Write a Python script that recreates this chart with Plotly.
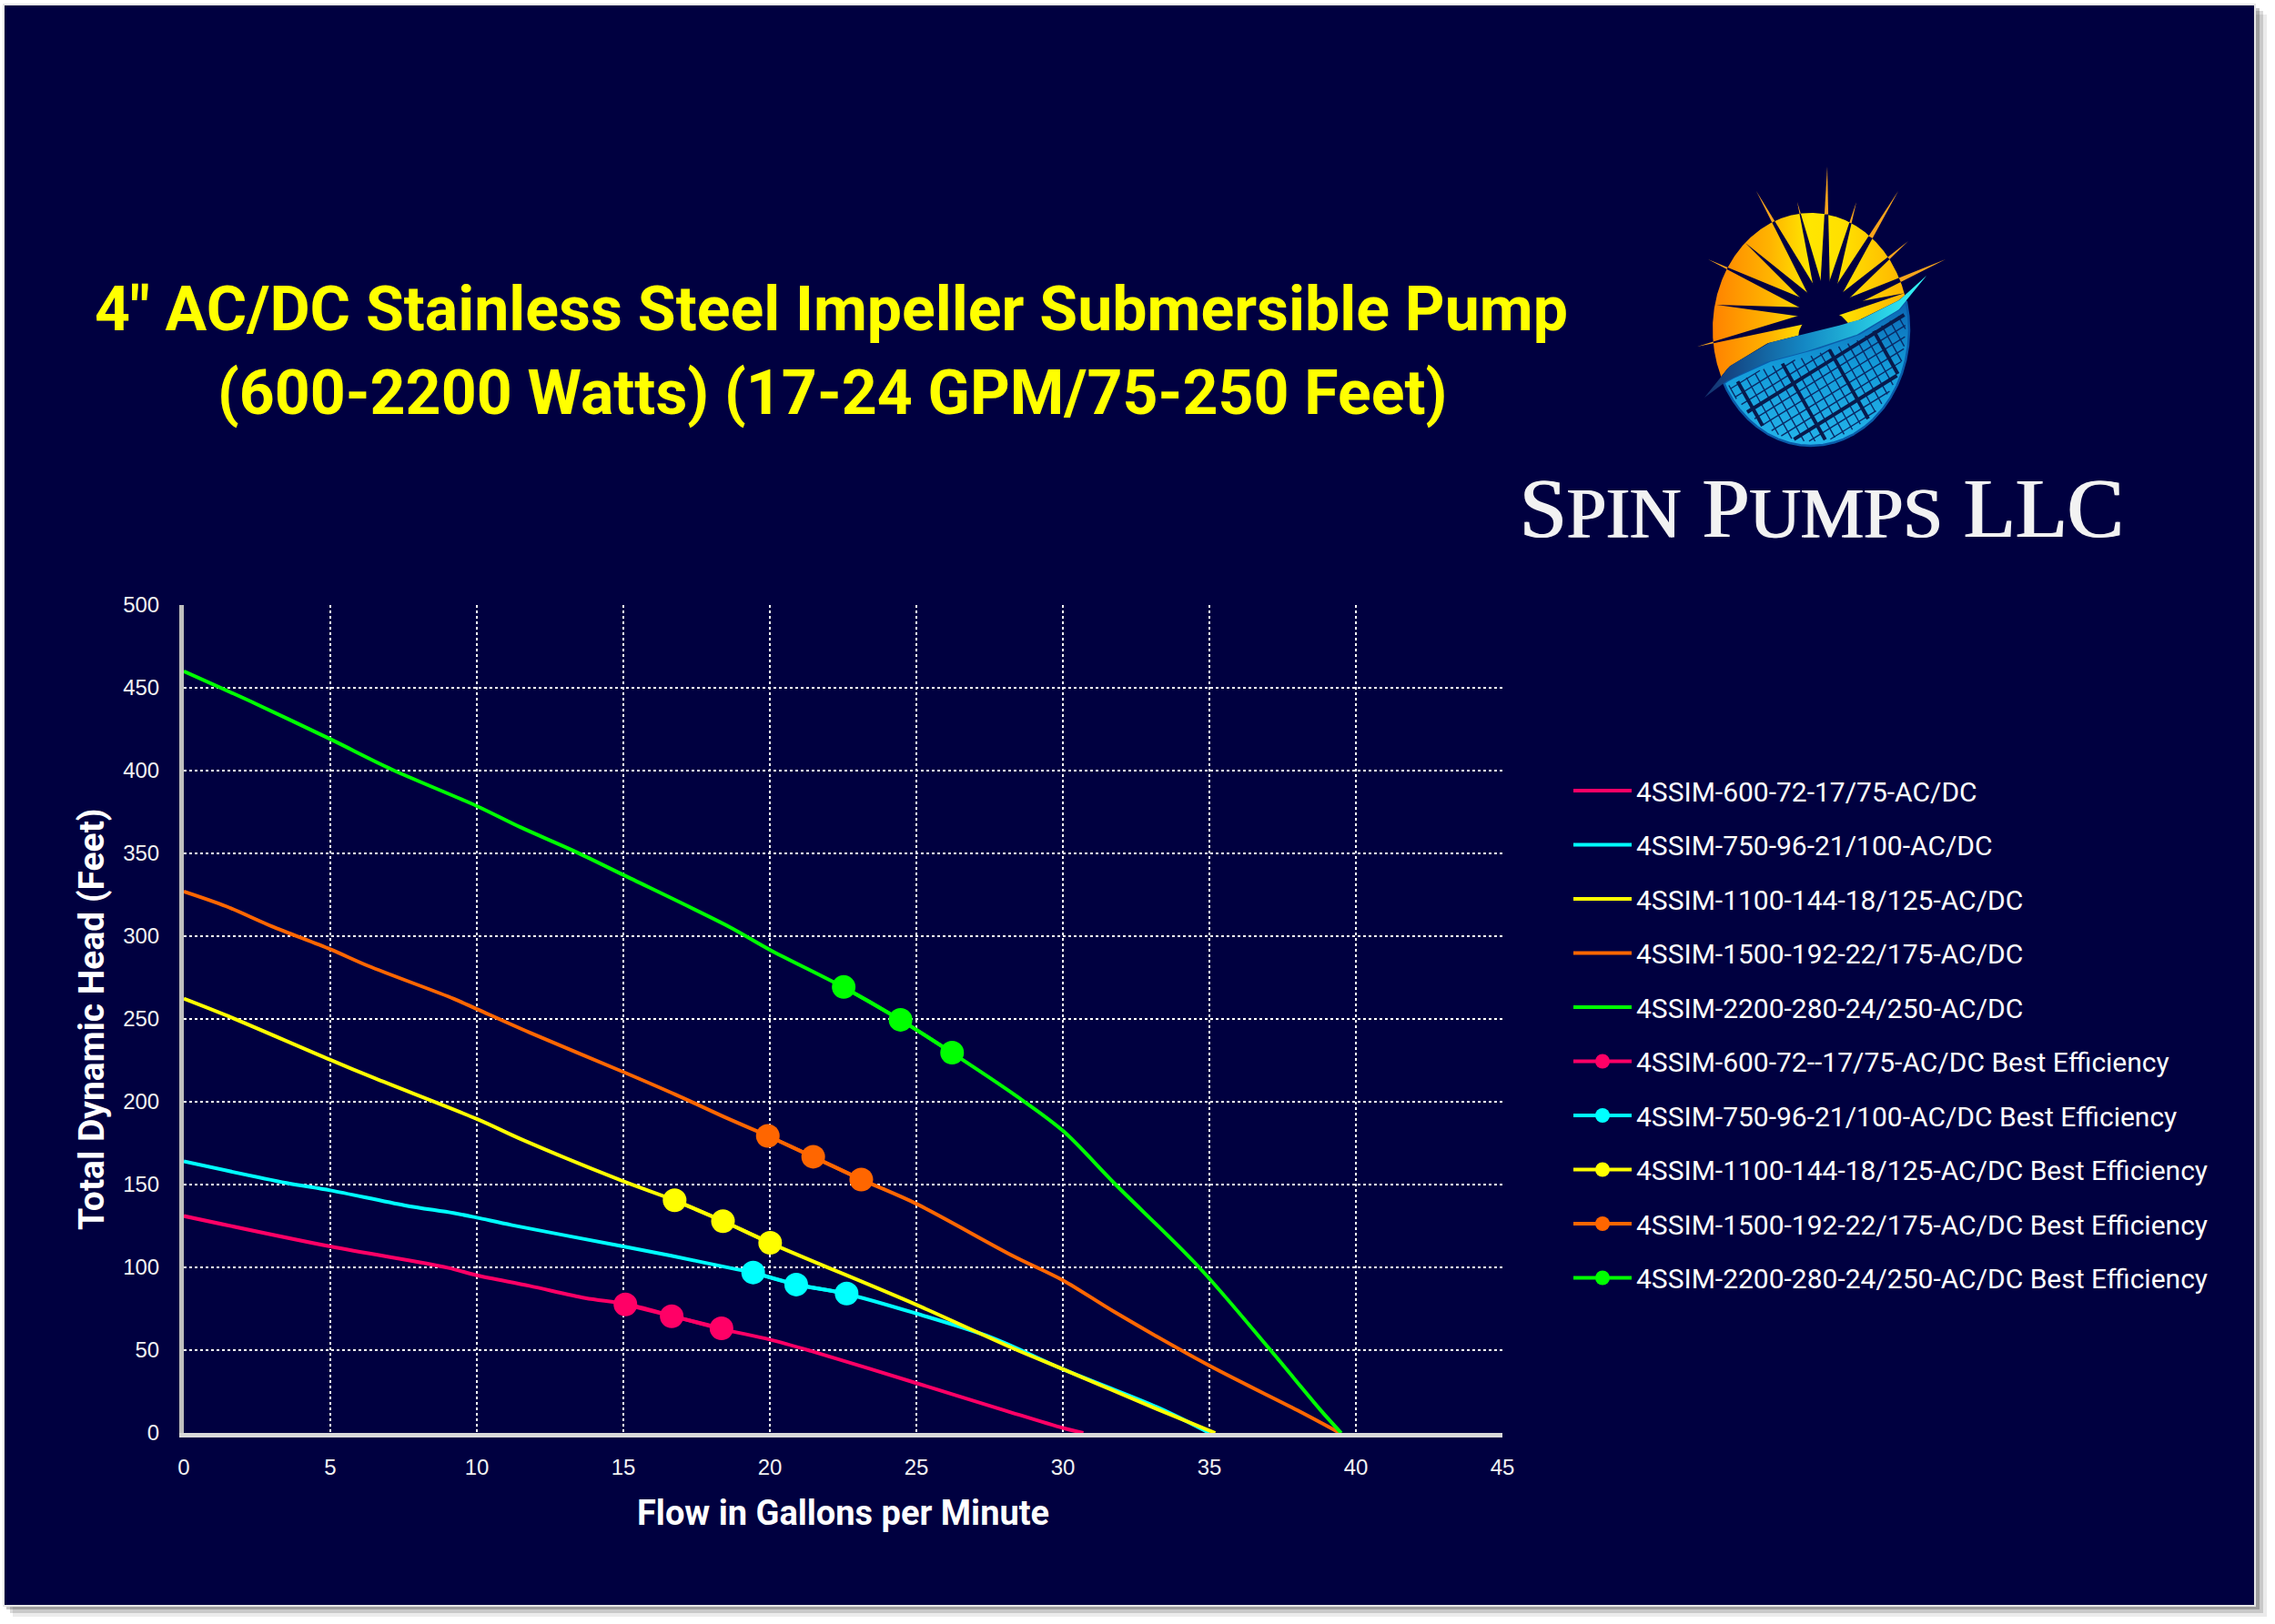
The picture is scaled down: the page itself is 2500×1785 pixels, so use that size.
import numpy as np
import plotly.graph_objects as go

W, H = 2500, 1785

# ---------------- data ----------------
flow_600 = [0, 5, 9, 10, 11.8, 13.7, 15.1, 16.7, 18.3, 20, 21.4, 25, 28, 30, 30.7]
head_600 = [131, 112.6, 99.8, 95.2, 88.8, 81.5, 77.9, 70.5, 63, 56.4, 49.5, 30.1, 13.7, 3, 0]

flow_750 = [0, 3.5, 5, 7.55, 9.2, 10, 11.2, 15, 16.6, 18.6, 19.4, 20.9, 22.6, 25, 27.6, 30, 33.3, 35]
head_750 = [164, 151, 146.5, 137.4, 132.8, 130, 125.5, 112.6, 107.1, 99.8, 96.8, 89.6, 84.1, 72.1, 57.4, 38.5, 14.9, 0]

flow_1100 = [0, 1.5, 5, 6.5, 10, 11.6, 15, 16.75, 18.4, 20, 25, 28.3, 30, 33.2, 35.2]
head_1100 = [262.3, 251.8, 225.3, 214.3, 189.6, 176.7, 152, 140.5, 128, 114.8, 77.4, 51.1, 38.5, 14.5, 0]

flow_1500 = [0, 1.45, 3.0, 5, 6.3, 9.2, 10, 11.8, 15, 16.8, 18.6, 19.93, 21.48, 23.12, 25, 28.3, 30, 31.75, 35, 38, 39.45]
head_1500 = [327, 318, 306, 292.1, 282, 262.3, 256, 241.8, 218, 204.2, 189.6, 179.4, 166.8, 153.1, 138.4, 106.9, 92.2, 73.2, 40.6, 13.7, 0]

flow_2200 = [0, 2.5, 5, 7.1, 10, 11.5, 13.3, 15, 18.6, 20, 22.5, 24.45, 26.2, 28.4, 30, 31.8, 34.65, 37.1, 38.8, 39.5]
head_2200 = [460, 440, 419, 400.7, 378.6, 365.7, 351.6, 337, 305.8, 291.8, 269.3, 249.5, 229.7, 203.6, 182.5, 150, 100, 49.7, 13.7, 0]

bep_flow_600 = [15.07, 16.65, 18.35]
bep_head_600 = [77.6, 70.5, 63.2]
bep_flow_750 = [19.43, 20.9, 22.62]
bep_head_750 = [96.9, 89.6, 84.2]
bep_flow_1100 = [16.75, 18.4, 20.01]
bep_head_1100 = [140.5, 127.9, 114.8]
bep_flow_1500 = [19.93, 21.48, 23.12]
bep_head_1500 = [179.4, 166.8, 153.0]
bep_flow_2200 = [22.52, 24.46, 26.22]
bep_head_2200 = [269.3, 249.5, 229.7]

names = ["4SSIM-600-72-17/75-AC/DC", "4SSIM-750-96-21/100-AC/DC", "4SSIM-1100-144-18/125-AC/DC",
         "4SSIM-1500-192-22/175-AC/DC", "4SSIM-2200-280-24/250-AC/DC"]
bep_names = ["4SSIM-600-72--17/75-AC/DC Best Efficiency", "4SSIM-750-96-21/100-AC/DC Best Efficiency",
             "4SSIM-1100-144-18/125-AC/DC Best Efficiency", "4SSIM-1500-192-22/175-AC/DC Best Efficiency",
             "4SSIM-2200-280-24/250-AC/DC Best Efficiency"]
colors = ["#FF0066", "#00FFFF", "#FFFF00", "#FF6600", "#00FF00"]

x_ticks = list(range(0, 50, 5))
y_ticks = list(range(0, 550, 50))

title1 = '4" AC/DC Stainless Steel Impeller Submersible Pump'
title2 = '(600-2200 Watts) (17-24 GPM/75-250 Feet)'
x_title = "Flow in Gallons per Minute"
y_title = "Total Dynamic Head (Feet)"

curves = [(flow_600, head_600), (flow_750, head_750), (flow_1100, head_1100),
          (flow_1500, head_1500), (flow_2200, head_2200)]
beps = [(bep_flow_600, bep_head_600), (bep_flow_750, bep_head_750), (bep_flow_1100, bep_head_1100),
        (bep_flow_1500, bep_head_1500), (bep_flow_2200, bep_head_2200)]

NAVY = "#000040"

fig = go.Figure()

for i, (fx, fy) in enumerate(curves):
    fig.add_trace(go.Scatter(x=fx, y=fy, mode="lines", name=names[i], legendgroup="g%d" % i,
                             line=dict(color=colors[i], width=4, shape="spline", smoothing=0.9),
                             hoverinfo="skip"))
for i, (fx, fy) in enumerate(beps):
    fig.add_trace(go.Scatter(x=fx, y=fy, mode="lines+markers", name=bep_names[i], legendgroup="b%d" % i,
                             line=dict(color=colors[i], width=4),
                             marker=dict(color=colors[i], size=26),
                             hoverinfo="skip"))

# ---------------- logo (decoration drawn in pixel space on an invisible overlay axis) ----------------
CX, CY, RX, RY = 1990, 362, 108, 128
sw_x = np.array([1873, 1900, 1943, 1993, 2043, 2087, 2117])
sw_up = np.array([437, 403, 377, 365, 352, 330, 303])
sw_lo = np.array([437, 417, 397, 384, 367, 340, 303])


def logo_trace(xs, ys, **kw):
    d = dict(x=list(xs), y=list(ys), xaxis="x2", yaxis="y2", showlegend=False, hoverinfo="skip")
    d.update(kw)
    fig.add_trace(go.Scatter(**d))


def poly(xs, ys, color, **kw):
    logo_trace(xs, ys, mode="lines", fill="toself", fillcolor=color, line=dict(width=0, color=color), **kw)


F = np.array([2005.0, 345.0])
tips = [(2008, 183), (1930, 210), (1975, 222), (2040, 222), (2086, 210), (1877, 285),
        (1918, 267), (2097, 265), (2138, 285), (1886, 335), (1865, 381), (2094, 322)]
ray_base = 13.0

ray_geo = []
for tx, ty in tips:
    T = np.array([tx, ty], float)
    dv = T - F
    L = np.hypot(*dv)
    d = dv / L
    n = np.array([-d[1], d[0]])
    ss = np.linspace(0, L, 400)
    px_ = F[0] + d[0] * ss
    py_ = F[1] + d[1] * ss
    inside = ((px_ - CX) / RX) ** 2 + ((py_ - CY) / RY) ** 2 < 1
    sb = ss[inside][-1] if inside.any() else 0
    B = F + d * sb
    wb = ray_base * (1 - sb / L) / 2
    ray_geo.append((T, B, n, wb))
    poly([B[0] + n[0] * wb, T[0], B[0] - n[0] * wb, B[0] + n[0] * wb],
         [B[1] + n[1] * wb, T[1], B[1] - n[1] * wb, B[1] + n[1] * wb], "#F8A41C")

t = np.linspace(np.pi / 2, 5 * np.pi / 2, 1441)
ex, ey = CX + RX * np.cos(t), CY + RY * np.sin(t)
m = ey < np.interp(ex, sw_x, sw_up)
sx, sy = ex[m], ey[m]
cx_ = np.linspace(sx[-1], sx[0], 60)
logo_trace(np.concatenate([sx, cx_]), np.concatenate([sy, np.interp(cx_, sw_x, sw_up)]),
           mode="lines", fill="toself", line=dict(width=0, color="rgba(0,0,0,0)"),
           fillgradient=dict(type="horizontal",
                             colorscale=[[0, "#FF8200"], [0.3, "#FFB400"], [0.5, "#FFE600"],
                                         [0.68, "#FFE000"], [1, "#FFB400"]]))

for T, B, n, wb in ray_geo:
    w0 = ray_base / 2
    poly([F[0] + n[0] * w0, B[0] + n[0] * wb, B[0] - n[0] * wb, F[0] - n[0] * w0, F[0] + n[0] * w0],
         [F[1] + n[1] * w0, B[1] + n[1] * wb, B[1] - n[1] * wb, F[1] - n[1] * w0, F[1] + n[1] * w0], NAVY)

ang = np.linspace(np.pi, 2 * np.pi, 40)
core_x = np.concatenate([2006 + 30 * np.cos(ang), [2036, 1976]])
core_y = np.concatenate([372 + 30 * np.sin(ang), [380, 390]])
poly(core_x, core_y, NAVY)

t = np.linspace(-np.pi / 2, 3 * np.pi / 2, 1441)
ex, ey = CX + RX * np.cos(t), CY + RY * np.sin(t)
m = ey > np.interp(ex, sw_x, sw_lo)
bx, by = ex[m], ey[m]
cx_ = np.linspace(bx[-1], bx[0], 60)
logo_trace(np.concatenate([bx, cx_]), np.concatenate([by, np.interp(cx_, sw_x, sw_lo)]),
           mode="lines", fill="toself", line=dict(width=2.5, color="#0A5CAA"),
           fillgradient=dict(type="vertical", colorscale=[[0, "#24B4EA"], [0.55, "#139BD9"], [1, "#0B64B2"]]))


def inside_blue(x, y):
    return (((x - CX) / RX) ** 2 + ((y - CY) / RY) ** 2 < 0.93) & (y > np.interp(x, sw_x, sw_lo) + 6)


P0 = np.array([1985.0, 425.0])
fam = [((0.85, -0.527), (0.527, 0.85)), ((0.49, 0.872), (0.872, -0.49))]
thin_x, thin_y, thick_x, thick_y = [], [], [], []
s = np.arange(-240, 241, 1.0)
for dvec, nvec in fam:
    dvec, nvec = np.array(dvec), np.array(nvec)
    for k in range(-20, 21):
        base = P0 + nvec * k * 10.5
        px_ = base[0] + dvec[0] * s
        py_ = base[1] + dvec[1] * s
        ins = inside_blue(px_, py_)
        tx_, ty_ = (thick_x, thick_y) if (k + 1) % 5 == 0 else (thin_x, thin_y)
        run = False
        for j in range(len(s)):
            if ins[j]:
                tx_.append(px_[j]); ty_.append(py_[j]); run = True
            elif run:
                tx_.append(None); ty_.append(None); run = False
        if run:
            tx_.append(None); ty_.append(None)
logo_trace(thin_x, thin_y, mode="lines", line=dict(width=1.4, color="#0A2A66"))
logo_trace(thick_x, thick_y, mode="lines", line=dict(width=4, color="#081A4C"))

swx = np.linspace(1873, 2117, 90)
logo_trace(np.concatenate([swx, swx[::-1]]),
           np.concatenate([np.interp(swx, sw_x, sw_up), np.interp(swx[::-1], sw_x, sw_lo)]),
           mode="lines", fill="toself", line=dict(width=0, color="rgba(0,0,0,0)"),
           fillgradient=dict(type="horizontal", colorscale=[[0, "#14306E"], [0.45, "#1488C4"], [1, "#35F8F8"]]))

# ---------------- layout ----------------
def px(x):
    return x / W


def py(y):
    return 1 - y / H


shapes = [
    dict(type="rect", xref="paper", yref="paper", x0=px(14), x1=px(2491), y0=py(16), y1=py(1777),
         fillcolor="rgba(0,0,0,0.08)", line=dict(width=0), layer="below"),
    dict(type="rect", xref="paper", yref="paper", x0=px(11), x1=px(2487), y0=py(12), y1=py(1773),
         fillcolor="rgba(0,0,0,0.14)", line=dict(width=0), layer="below"),
    dict(type="rect", xref="paper", yref="paper", x0=px(7), x1=px(2483), y0=py(9), y1=py(1769),
         fillcolor="rgba(0,0,0,0.22)", line=dict(width=0), layer="below"),
    dict(type="rect", xref="paper", yref="paper", x0=px(4), x1=px(2478), y0=py(5), y1=py(1765),
         fillcolor=NAVY, line=dict(width=2, color="#E6E6E6"), layer="below"),
]

small = lambda s_: "<span style='font-size:78px'>%s</span>" % s_
company_html = "S" + small("PIN") + " P" + small("UMPS") + " LLC"

annotations = [
    dict(text="<b>%s</b>" % title1, x=px(913), y=py(340), xref="paper", yref="paper", showarrow=False,
         xanchor="center", yanchor="middle", font=dict(family="Roboto", size=68, color="#FFFF00")),
    dict(text="<b>%s</b>" % title2, x=px(914), y=py(432), xref="paper", yref="paper", showarrow=False,
         xanchor="center", yanchor="middle", font=dict(family="Roboto", size=68, color="#FFFF00")),
    dict(text="<b>%s</b>" % x_title, x=px(926), y=py(1663), xref="paper", yref="paper", showarrow=False,
         xanchor="center", yanchor="middle", font=dict(family="Roboto", size=38, color="#FFFFFF")),
    dict(text="<b>%s</b>" % y_title, x=px(101), y=py(1120), xref="paper", yref="paper", showarrow=False,
         textangle=-90, xanchor="center", yanchor="middle", font=dict(family="Roboto", size=39, color="#FFFFFF")),
]
# company name (drawn twice with a tiny offset for heavier strokes)
for dx in (0.0, 1.6):
    annotations.append(
        dict(text=company_html, x=px(2001 + dx), y=py(558), xref="paper", yref="paper", showarrow=False,
             xanchor="center", yanchor="middle", font=dict(family="Liberation Serif", size=93, color="#F2F2F2")))

tickfont = dict(family="Liberation Sans", size=24, color="#F2F2F2")
fig.update_layout(
    template="none",
    width=W, height=H, autosize=False,
    margin=dict(l=0, r=0, t=0, b=0, pad=0, autoexpand=False),
    paper_bgcolor="#FFFFFF",
    plot_bgcolor="rgba(0,0,0,0)",
    hovermode=False,
    shapes=shapes,
    annotations=annotations,
    xaxis=dict(domain=[px(202), px(1651)], range=[0, 45], tickvals=x_ticks, ticktext=[str(v) for v in x_ticks],
               showgrid=True, gridcolor="#FFFFFF", griddash="dot", gridwidth=2,
               showline=True, linecolor="#D9D9D9", linewidth=5, zeroline=False, automargin=False,
               ticks="outside", ticklen=12, tickcolor="rgba(0,0,0,0)", tickfont=tickfont, anchor="y",
               fixedrange=True),
    yaxis=dict(domain=[py(1575), py(665)], range=[0, 500], tickvals=y_ticks, ticktext=[str(v) for v in y_ticks],
               showgrid=True, gridcolor="#FFFFFF", griddash="dot", gridwidth=2,
               showline=True, linecolor="#BFBFBF", linewidth=5, zeroline=False, automargin=False,
               ticks="outside", ticklen=17, tickcolor="rgba(0,0,0,0)", tickfont=tickfont, anchor="x",
               fixedrange=True),
    xaxis2=dict(domain=[0, 1], range=[0, W], visible=False, anchor="y2", fixedrange=True, automargin=False),
    yaxis2=dict(domain=[0, 1], range=[H, 0], visible=False, anchor="x2", fixedrange=True, automargin=False),
    legend=dict(x=px(1724), y=py(843), xanchor="left", yanchor="top",
                font=dict(family="Roboto", size=30, color="#FFFFFF"),
                bgcolor="rgba(0,0,0,0)", borderwidth=0, tracegroupgap=17.5, itemwidth=64, traceorder="grouped"),
)

fig.write_html(
    "out.html",
    config={"displayModeBar": False},
    post_script=("document.documentElement.style.margin='0px';document.documentElement.style.padding='0px';"
                 "document.body.style.margin='0px';document.body.style.padding='0px';"
                 "document.body.style.overflow='hidden';window.scrollTo(0,0);"),
)
